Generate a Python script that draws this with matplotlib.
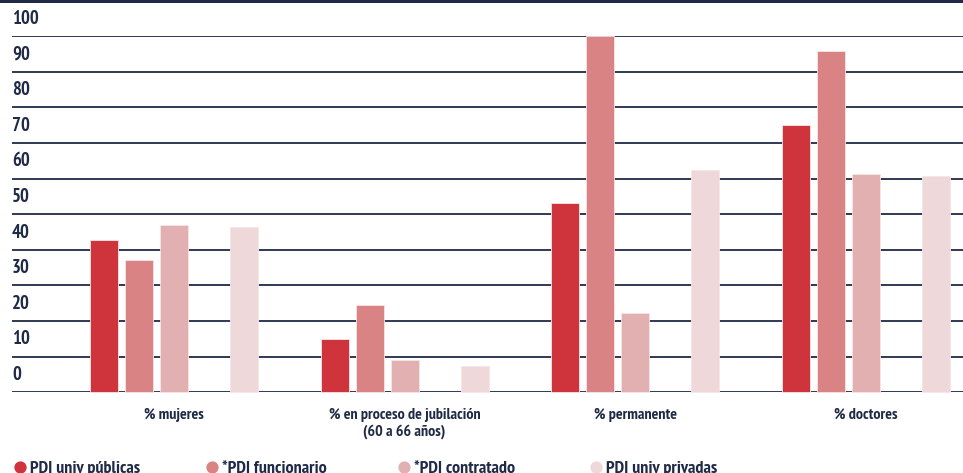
import matplotlib
matplotlib.use("Agg")
import matplotlib.pyplot as plt
from matplotlib import font_manager
import numpy as np

# buscar una fuente estrecha en negrita (primero "Narrow", luego "Condensed")
negritas = [f for f in font_manager.fontManager.ttflist if f.weight in (700, 'bold')]
estrechas = ([f for f in negritas if 'Narrow' in f.name or 'Narrow' in f.fname]
             + [f for f in negritas if 'Condensed' in f.name or f.stretch == 'condensed'])
if estrechas:
    fuente, estirado = estrechas[0].name, estrechas[0].stretch
else:
    fuente, estirado = 'DejaVu Sans', 'normal'
plt.rcParams['font.family'] = [fuente, 'DejaVu Sans']
plt.rcParams['font.stretch'] = estirado
plt.rcParams['font.weight'] = 'bold'

# datos PDI
categorias = ['% mujeres', '% en proceso de jubilación\n(60 a 66 años)', '% permanente', '% doctores']
series = ['PDI univ públicas', '*PDI funcionario', '*PDI contratado', 'PDI univ privadas']
publicas = [42.9, 15.1, 53.1, 75.0]
funcionario = [37.3, 24.6, 100.0, 95.8]
contratado = [47.1, 9.0, 22.4, 61.3]
privadas = [46.5, 7.5, 62.4, 60.8]
yticks = [0, 10, 20, 30, 40, 50, 60, 70, 80, 90, 100]

colores = ['#cf343c', '#d98385', '#e2b0b1', '#eed8da']
navy = '#1f2a46'
valores = [publicas, funcionario, contratado, privadas]
huecos = [-2, -1, 0, 2]   # el hueco 1 queda vacío

W, H = 963, 473
fig = plt.figure(figsize=(W / 100, H / 100), dpi=100)
ax = fig.add_axes([12 / W, 80.7 / H, 951 / W, 356.0 / H])

x = np.arange(len(categorias))
paso = 0.1517
ancho = 0.121
for vals, col, h in zip(valores, colores, huecos):
    ax.bar(x + h * paso, vals, ancho, color=col, edgecolor='#f6e6e7',
           linewidth=0.6, zorder=3, clip_on=False)

ax.set_xlim(-0.702, 3.42)
ax.set_ylim(0, 100)

# líneas horizontales y etiquetas encima
for v in yticks:
    ax.axhline(v, color=navy, lw=1.3, zorder=1)
    ax.annotate(str(v), xy=(0, v), xycoords=('axes fraction', 'data'),
                xytext=(0, 6), textcoords='offset points', ha='left', va='bottom',
                fontsize=13.5, color=navy, fontweight='bold')

ax.set_yticks([])
ax.set_xticks(x)
ax.set_xticklabels(categorias, fontsize=11.5, color=navy, fontweight='bold',
                   linespacing=1.25)
ax.tick_params(axis='x', length=0, pad=11)
for s in ax.spines.values():
    s.set_visible(False)

# franja superior
fig.add_artist(plt.Rectangle((0, 1 - 3.5 / H), 1, 3.5 / H, transform=fig.transFigure,
                             color=navy, lw=0))

# leyenda
ov = fig.add_axes([0, 0, 1, 1])
ov.set_xlim(0, W)
ov.set_ylim(H, 0)
ov.axis('off')
for i, (nom, col) in enumerate(zip(series, colores)):
    cx = 20 + i * 192
    ov.scatter([cx], [466.8], s=78, color=col, lw=0)
    ov.text(cx + 10, 472.5, nom, ha='left', va='baseline', fontsize=13,
            color=navy, fontweight='bold')

fig.savefig('out.png', dpi=100)
